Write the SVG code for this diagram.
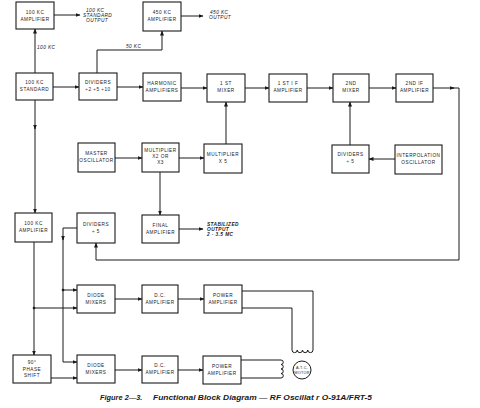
<svg xmlns="http://www.w3.org/2000/svg" width="480" height="408" viewBox="0 0 480 408">
<defs>
<marker id="ah" markerWidth="5" markerHeight="4" refX="4.5" refY="2" orient="auto" markerUnits="userSpaceOnUse">
<path d="M0,0 L5,2 L0,4 Z" fill="#1a1a1a"/>
</marker>
</defs>
<style>
.b{fill:#fff;stroke:#1a1a1a;stroke-width:1.1}
.t{font-family:"Liberation Sans",Arial,sans-serif;font-size:4.7px;fill:#1a1a1a;text-anchor:middle;letter-spacing:0.5px}
.i{font-family:"Liberation Sans",Arial,sans-serif;font-size:4.8px;fill:#1a1a1a;font-style:italic;letter-spacing:0.4px}
.c{fill:none;stroke:#1a1a1a;stroke-width:1}
.a{fill:none;stroke:#1a1a1a;stroke-width:1;marker-end:url(#ah)}
.cap{font-family:"Liberation Sans",Arial,sans-serif;font-size:7.4px;font-weight:bold;font-style:italic;fill:#1a1a1a}
</style>
<rect width="480" height="408" fill="#fff"/>

<g id="connectors">
<path class="a" d="M54,15 H80"/>
<path class="a" d="M181,16 H203"/>
<path class="a" d="M35,73 V29"/>
<path class="a" d="M53,87 H79"/>
<path class="a" d="M97,73 V50 H162 V31"/>
<path class="a" d="M117,87 H143"/>
<path class="a" d="M181,88 H207"/>
<path class="a" d="M245,88 H269"/>
<path class="a" d="M307,88 H333"/>
<path class="a" d="M369,88 H396"/>
<path class="a" d="M433,88 H454"/>
<path class="a" d="M452,88 H459 V260 H96 V243"/>
<path class="a" d="M115,158 H142"/>
<path class="a" d="M179,158 H204"/>
<path class="a" d="M226,144 V102"/>
<path class="a" d="M160,172 V215"/>
<path class="a" d="M179,229 H203"/>
<path class="a" d="M395,159 H369"/>
<path class="a" d="M350,145 V102"/>
<path class="a" d="M35,100 V129"/>
<path class="a" d="M35,127 V213"/>
<path class="a" d="M34,242 V355"/>
<path class="a" d="M34,308 H77"/>
<circle cx="34" cy="308" r="1.3" fill="#1a1a1a"/>
<path class="a" d="M77,228 H63 V240"/>
<path class="a" d="M63,238 V362 H77"/>
<path class="a" d="M63,290 H77"/>
<circle cx="63" cy="290" r="1.3" fill="#1a1a1a"/>
<path class="a" d="M115,299 H142"/>
<path class="a" d="M178,299 H204"/>
<path class="c" d="M242,291 H313 V350"/>
<path class="c" d="M242,308 H292 V350"/>
<path class="c" d="M292,350 a2.6,2.6 0 0 0 5.25,0 a2.6,2.6 0 0 0 5.25,0 a2.6,2.6 0 0 0 5.25,0 a2.6,2.6 0 0 0 5.25,0"/>
<path class="a" d="M51,378 H77"/>
<path class="a" d="M115,370 H142"/>
<path class="a" d="M178,370 H203"/>
<path class="c" d="M241,360 H281 a2.25,2.25 0 0 1 0,4.5 a2.25,2.25 0 0 1 0,4.5 a2.25,2.25 0 0 1 0,4.5 a2.25,2.25 0 0 1 0,4.5 H241"/>
</g>

<g id="lbl-100kc-std-out"><text class="i"><tspan x="86" y="12">100 KC</tspan><tspan x="83" y="17">STANDARD</tspan><tspan x="86" y="22">OUTPUT</tspan></text></g>
<g id="lbl-450kc-out"><text class="i"><tspan x="210" y="14">450 KC</tspan><tspan x="209" y="19">OUTPUT</tspan></text></g>
<g id="lbl-100kc"><text class="i" x="37" y="49">100 KC</text></g>
<g id="lbl-50kc"><text class="i" x="126" y="48">50 KC</text></g>
<g id="lbl-stab"><text class="i" font-weight="bold"><tspan x="207" y="226">STABILIZED</tspan><tspan x="207" y="231">OUTPUT</tspan><tspan x="207" y="236">2 - 3.5 MC</tspan></text></g>

<g id="amp100-top"><rect class="b" x="16" y="2" width="38" height="27"/><text class="t"><tspan x="35" y="14">100 KC</tspan><tspan x="35" y="21">AMPLIFIER</tspan></text></g>
<g id="amp450"><rect class="b" x="143" y="2" width="38" height="29"/><text class="t"><tspan x="162" y="14">450 KC</tspan><tspan x="162" y="21">AMPLIFIER</tspan></text></g>
<g id="std100"><rect class="b" x="16" y="73" width="37" height="27"/><text class="t"><tspan x="34.5" y="84">100 KC</tspan><tspan x="34.5" y="91">STANDARD</tspan></text></g>
<g id="div1"><rect class="b" x="79" y="73" width="38" height="27"/><text class="t"><tspan x="98" y="84">DIVIDERS</tspan><tspan x="98" y="91">÷2 ÷5 ÷10</tspan></text></g>
<g id="harm"><rect class="b" x="143" y="73" width="38" height="28"/><text class="t"><tspan x="162" y="85">HARMONIC</tspan><tspan x="162" y="92">AMPLIFIERS</tspan></text></g>
<g id="mix1"><rect class="b" x="207" y="74" width="38" height="28"/><text class="t"><tspan x="226" y="85">1 ST</tspan><tspan x="226" y="92">MIXER</tspan></text></g>
<g id="if1"><rect class="b" x="269" y="74" width="38" height="28"/><text class="t"><tspan x="288" y="85">1 ST I F</tspan><tspan x="288" y="92">AMPLIFIER</tspan></text></g>
<g id="mix2"><rect class="b" x="333" y="74" width="36" height="28"/><text class="t"><tspan x="351" y="85">2ND</tspan><tspan x="351" y="92">MIXER</tspan></text></g>
<g id="if2"><rect class="b" x="396" y="74" width="37" height="28"/><text class="t"><tspan x="414.5" y="85">2ND IF</tspan><tspan x="414.5" y="92">AMPLIFIER</tspan></text></g>
<g id="mosc"><rect class="b" x="78" y="143" width="37" height="29"/><text class="t"><tspan x="96.5" y="155">MASTER</tspan><tspan x="96.5" y="162">OSCILLATOR</tspan></text></g>
<g id="mult23"><rect class="b" x="142" y="143" width="37" height="29"/><text class="t"><tspan x="160.5" y="152">MULTIPLIER</tspan><tspan x="160.5" y="158">X2 OR</tspan><tspan x="160.5" y="164">X3</tspan></text></g>
<g id="mult5"><rect class="b" x="204" y="144" width="38" height="29"/><text class="t"><tspan x="223" y="156">MULTIPLIER</tspan><tspan x="223" y="163">X 5</tspan></text></g>
<g id="div3"><rect class="b" x="332" y="145" width="37" height="28"/><text class="t"><tspan x="350.5" y="156">DIVIDERS</tspan><tspan x="350.5" y="163">÷ 5</tspan></text></g>
<g id="interp"><rect class="b" x="395" y="145" width="47" height="29"/><text class="t"><tspan x="418.5" y="157">INTERPOLATION</tspan><tspan x="418.5" y="164">OSCILLATOR</tspan></text></g>
<g id="amp100-low"><rect class="b" x="15" y="213" width="37" height="29"/><text class="t"><tspan x="33.5" y="225">100 KC</tspan><tspan x="33.5" y="232">AMPLIFIER</tspan></text></g>
<g id="div5"><rect class="b" x="77" y="213" width="38" height="30"/><text class="t"><tspan x="96" y="226">DIVIDERS</tspan><tspan x="96" y="233">÷ 5</tspan></text></g>
<g id="final"><rect class="b" x="142" y="215" width="37" height="28"/><text class="t"><tspan x="160.5" y="227">FINAL</tspan><tspan x="160.5" y="234">AMPLIFIER</tspan></text></g>
<g id="dm1"><rect class="b" x="77" y="285" width="38" height="28"/><text class="t"><tspan x="96" y="297">DIODE</tspan><tspan x="96" y="304">MIXERS</tspan></text></g>
<g id="dc1"><rect class="b" x="142" y="285" width="36" height="28"/><text class="t"><tspan x="160" y="297">D.C.</tspan><tspan x="160" y="304">AMPLIFIER</tspan></text></g>
<g id="pa1"><rect class="b" x="204" y="285" width="38" height="28"/><text class="t"><tspan x="223" y="297">POWER</tspan><tspan x="223" y="304">AMPLIFIER</tspan></text></g>
<g id="ps"><rect class="b" x="13" y="355" width="38" height="28"/><text class="t"><tspan x="32" y="364">90°</tspan><tspan x="32" y="370.5">PHASE</tspan><tspan x="32" y="377">SHIFT</tspan></text></g>
<g id="dm2"><rect class="b" x="77" y="355" width="38" height="28"/><text class="t"><tspan x="96" y="367">DIODE</tspan><tspan x="96" y="374">MIXERS</tspan></text></g>
<g id="dc2"><rect class="b" x="142" y="356" width="36" height="27"/><text class="t"><tspan x="160" y="367">D.C.</tspan><tspan x="160" y="374">AMPLIFIER</tspan></text></g>
<g id="pa2"><rect class="b" x="203" y="356" width="38" height="28"/><text class="t"><tspan x="222" y="368">POWER</tspan><tspan x="222" y="375">AMPLIFIER</tspan></text></g>
<g id="motor"><circle cx="302" cy="370" r="9" fill="#fff" stroke="#1a1a1a" stroke-width="1"/><text class="t" style="font-size:3.8px;letter-spacing:0.3px"><tspan x="302" y="368.5">A.T.C.</tspan><tspan x="302" y="374">MOTOR</tspan></text></g>

<g id="caption"><text class="cap" x="100" y="400">Figure 2—3.</text><text class="cap" x="153" y="400" textLength="219" lengthAdjust="spacingAndGlyphs">Functional Block Diagram — RF Oscillat  r O-91A/FRT-5</text></g>
</svg>
